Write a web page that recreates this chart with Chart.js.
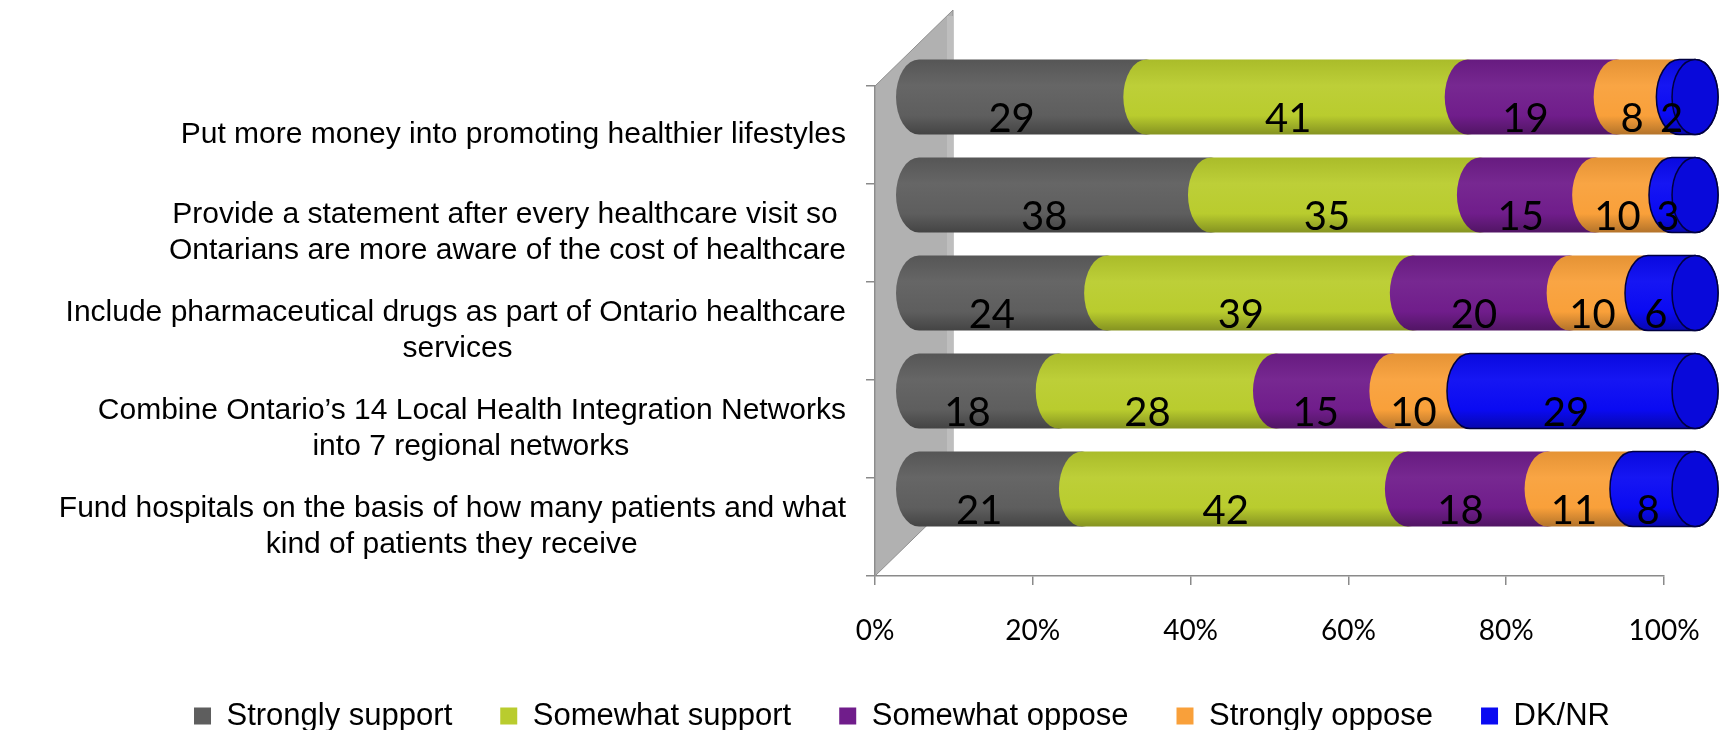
<!DOCTYPE html>
<html>
<head>
<meta charset="utf-8">
<title>Healthcare proposals</title>
<script src="https://cdn.jsdelivr.net/npm/chart.js@4.4.1/dist/chart.umd.min.js"></script>
<style>
  html, body { margin: 0; padding: 0; background: #fff; }
  #wrap { width: 1722px; height: 730px; }
</style>
</head>
<body>
<div id="wrap"><canvas id="chart"></canvas></div>
<script>
const proposals = [
  ['Put more money into promoting healthier lifestyles'],
  ['Provide a statement after every healthcare visit so', 'Ontarians are more aware of the cost of healthcare'],
  ['Include pharmaceutical drugs as part of Ontario healthcare', 'services'],
  ['Combine Ontario’s 14 Local Health Integration Networks', 'into 7 regional networks'],
  ['Fund hospitals on the basis of how many patients and what', 'kind of patients they receive']
];
const strongSupport = [29, 38, 24, 18, 21];
const somewhatSupport = [41, 35, 39, 28, 42];
const somewhatOppose = [19, 15, 20, 15, 18];
const strongOppose = [8, 10, 10, 10, 11];
const dontKnow = [2, 3, 6, 29, 8];
const seriesNames = ['Strongly support', 'Somewhat support', 'Somewhat oppose', 'Strongly oppose', 'DK/NR'];
const seriesColors = ['#5e5e5e', '#b9cc2e', '#701d8b', '#f9a03a', '#0a0af2'];
const percentTicks = [0, 20, 40, 60, 80, 100];

const series = [strongSupport, somewhatSupport, somewhatOppose, strongOppose, dontKnow];
// 100% stacked: each row is scaled to its own total
const rowTotals = proposals.map((_, j) => series.reduce((s, arr) => s + arr[j], 0));
const shares = series.map(arr => arr.map((v, j) => v / rowTotals[j] * 100));

const AXIS = '#8a8a8a';
const LABEL_FONT = '30px "Liberation Sans", Arial, sans-serif';
const BAR_DY = -38;        // bars sit further back than the floor
const WALL_DX = 78, WALL_DY = -76;
const CAP_RX = 23;
const LEGEND_LEFT = 140;   // legend row is centred under the plot, not the page

// centre the lines of a wrapped label inside a right-aligned block
function centreLines(lines, ctx) {
  if (lines.length < 2) return lines;
  ctx.save();
  ctx.font = LABEL_FONT;
  const widths = lines.map(l => ctx.measureText(l).width);
  const widest = Math.max(...widths);
  const space = ctx.measureText(' ').width;
  ctx.restore();
  return lines.map((l, i) => l + ' '.repeat(Math.round((widest - widths[i]) / 2 / space)));
}

function shade(hex, f) {
  const n = parseInt(hex.slice(1), 16);
  const ch = [(n >> 16) & 255, (n >> 8) & 255, n & 255].map(c =>
    Math.round(f < 0 ? c * (1 + f) : c + (255 - c) * f));
  return `rgb(${ch[0]},${ch[1]},${ch[2]})`;
}

function segmentPath(ctx, left, right, top, bottom) {
  const yc = (top + bottom) / 2, ry = (bottom - top) / 2;
  ctx.beginPath();
  ctx.moveTo(left, top);
  ctx.lineTo(right, top);
  ctx.ellipse(right, yc, CAP_RX, ry, 0, -Math.PI / 2, Math.PI / 2, false);
  ctx.lineTo(left, bottom);
  ctx.ellipse(left, yc, CAP_RX, ry, 0, Math.PI / 2, Math.PI * 1.5, false);
  ctx.closePath();
}

const legendShift = {
  id: 'legendShift',
  afterLayout(chart) {
    chart.legend.left = LEGEND_LEFT;
    chart.legend.right = chart.chartArea.right;
  }
};

const cylinders = {
  id: 'cylinders',
  beforeDatasetsDraw(chart) {
    const { ctx, chartArea, scales } = chart;
    const x = scales.x, xb = scales.xb;
    const wx = x.getPixelForValue(0);

    ctx.save();
    // side wall
    ctx.beginPath();
    ctx.moveTo(wx, chartArea.bottom);
    ctx.lineTo(wx, chartArea.top);
    ctx.lineTo(wx + WALL_DX, chartArea.top + WALL_DY);
    ctx.lineTo(wx + WALL_DX, chartArea.bottom + WALL_DY);
    ctx.closePath();
    ctx.fillStyle = '#b1b1b1';
    ctx.fill();
    ctx.strokeStyle = '#8f8f8f';
    ctx.lineWidth = 1;
    ctx.stroke();
    ctx.fillStyle = '#bebebe';
    ctx.fillRect(wx + WALL_DX - 6, chartArea.top + WALL_DY + 6, 6, chartArea.bottom - chartArea.top - 6);

    // stacked cylinders, left segment first so each next one overlaps its end
    ctx.translate(0, BAR_DY);
    chart.data.datasets.forEach((ds, i) => {
      const meta = chart.getDatasetMeta(i);
      const last = i === chart.data.datasets.length - 1;
      meta.data.forEach(bar => {
        const { x: right, base: left, y, height } = bar.getProps(['x', 'base', 'y', 'height'], true);
        const top = y - height / 2, bottom = y + height / 2;
        const g = ctx.createLinearGradient(0, top, 0, bottom);
        const c = seriesColors[i];
        g.addColorStop(0, shade(c, -0.08));
        g.addColorStop(0.35, shade(c, 0.05));
        g.addColorStop(0.75, c);
        g.addColorStop(1, shade(c, -0.28));
        segmentPath(ctx, left, right, top, bottom);
        ctx.fillStyle = g;
        ctx.fill();
        if (last) {
          ctx.strokeStyle = '#000040';
          ctx.lineWidth = 1.5;
          ctx.stroke();
          ctx.beginPath();
          ctx.ellipse(right, y, CAP_RX, height / 2, 0, 0, Math.PI * 2);
          ctx.fillStyle = shade(c, -0.1);
          ctx.fill();
          ctx.stroke();
        }
      });
    });
    ctx.restore();

    // value labels, placed between the floor and the bar in depth
    ctx.save();
    ctx.font = '40px Lato, "Open Sans", sans-serif';
    ctx.fillStyle = '#000';
    ctx.textAlign = 'center';
    ctx.textBaseline = 'alphabetic';
    const start = proposals.map(() => 0);
    series.forEach((arr, i) => {
      const meta = chart.getDatasetMeta(i);
      arr.forEach((v, j) => {
        const mid = start[j] + shares[i][j] / 2;
        start[j] += shares[i][j];
        const px = (x.getPixelForValue(mid) + xb.getPixelForValue(mid)) / 2;
        ctx.fillText(String(v), px, meta.data[j].y - 3);
      });
    });
    ctx.restore();
    return false;
  }
};

new Chart(document.getElementById('chart'), {
  type: 'bar',
  data: {
    labels: proposals,
    datasets: seriesNames.map((name, i) => ({
      label: name,
      data: shares[i],
      xAxisID: 'xb',
      backgroundColor: seriesColors[i],
      borderWidth: 0,
      barPercentage: 0.765,
      categoryPercentage: 1
    }))
  },
  options: {
    indexAxis: 'y',
    responsive: true,
    maintainAspectRatio: false,
    animation: false,
    devicePixelRatio: 1,
    layout: { padding: { left: 0, right: 58, top: 86, bottom: -11.5 } },
    scales: {
      x: {
        type: 'linear',
        position: 'bottom',
        min: 0,
        max: 100,
        afterBuildTicks: s => { s.ticks = percentTicks.map(v => ({ value: v })); },
        afterFit: s => { s.height = 76.5; s.paddingLeft = 0; s.paddingRight = 0; },
        ticks: {
          callback: v => v + '%',
          color: '#000',
          font: { family: 'Lato', size: 28 },
          padding: 29,
          maxRotation: 0
        },
        grid: { drawOnChartArea: false, tickLength: 9, color: AXIS, lineWidth: 1.5 },
        border: { color: AXIS, width: 1.5 }
      },
      xb: { type: 'linear', display: false, stacked: true, min: -5.67, max: 96 },
      y: {
        type: 'category',
        stacked: true,
        offset: true,
        afterFit: s => { s.width = 875; },
        ticks: {
          callback: function (value) { return centreLines(this.getLabelForValue(value), this.chart.ctx); },
          color: '#000',
          font: { family: '"Liberation Sans", Arial, sans-serif', size: 30, lineHeight: 1.2 },
          padding: 20
        },
        grid: { offset: true, drawOnChartArea: false, tickLength: 9, color: AXIS, lineWidth: 1.5 },
        border: { color: AXIS, width: 1.5 }
      }
    },
    plugins: {
      legend: {
        position: 'bottom',
        align: 'center',
        labels: {
          boxWidth: 17,
          boxHeight: 17,
          padding: 48,
          color: '#000',
          font: { family: '"Liberation Sans", Arial, sans-serif', size: 31 }
        }
      },
      tooltip: { enabled: false }
    }
  },
  plugins: [legendShift, cylinders]
});
</script>
</body>
</html>
